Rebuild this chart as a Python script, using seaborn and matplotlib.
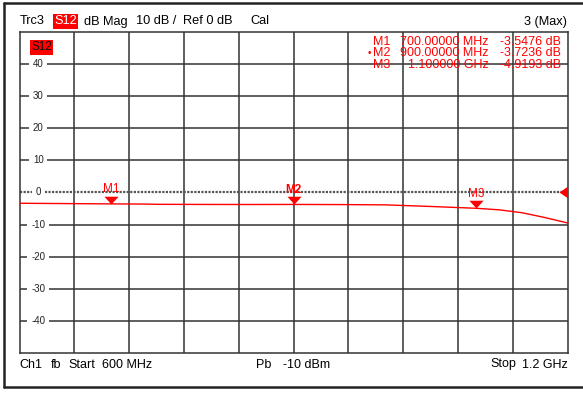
import matplotlib
matplotlib.use("Agg")
import matplotlib.pyplot as plt
import seaborn as sns
import pandas as pd
from matplotlib.lines import Line2D
from matplotlib.path import Path

# Trace S12, magnitude in dB versus frequency in MHz
freq_mhz = [600, 650, 700, 735, 750, 800, 850, 900, 950, 1000, 1050, 1100, 1125, 1150, 1175, 1200]
s12_db = [-3.35, -3.45, -3.55, -3.6, -3.68, -3.72, -3.74, -3.72, -3.76, -3.85, -4.35, -4.92, -5.4, -6.3, -7.8, -9.5]

# Markers
marker_names = ["M1", "M2", "M3"]
marker_freq = [700, 900, 1100]
marker_db = [-3.5476, -3.7236, -4.9193]
marker_freq_text = ["700.00000 MHz", "900.00000 MHz", "1.100000 GHz"]
marker_db_text = ["-3.5476 dB", "-3.7236 dB", "-4.9193 dB"]

y_ticks = [40, 30, 20, 10, 0, -10, -20, -30, -40]

sns.set_theme(style="white")
plt.rcParams["font.family"] = ["Liberation Sans", "DejaVu Sans"]

RED = "#ff0000"
GRID = "#333333"
W, H = 583.0, 394.0

fig = plt.figure(figsize=(5.83, 3.94), dpi=100)
ax = fig.add_axes([19.5 / W, 1 - 353 / H, (567.7 - 19.5) / W, (353 - 32) / H])

ax.set_xlim(600, 1200)
ax.set_ylim(-50, 50)
ax.set_xticks([])
ax.set_yticks([])
for s in ax.spines.values():
    s.set_color(GRID)
    s.set_linewidth(1.1)

# graticule
for f in range(660, 1200, 60):
    ax.axvline(f, color=GRID, lw=1.1, zorder=1)
for v in y_ticks:
    if v == 0:
        ax.axhline(v, color="#555555", lw=1.6, ls=(0, (1, 0.6)), zorder=1)
    else:
        ax.axhline(v, color=GRID, lw=1.1, zorder=1)

# scale labels sitting on the grid lines
for v in y_ticks:
    ax.text(620.5, v, str(v), ha="center", va="center", fontsize=7, color="#222222",
            zorder=3, bbox=dict(boxstyle="square,pad=0.4", fc="white", ec="none"))

df = pd.DataFrame({"freq": freq_mhz, "db": s12_db})
sns.lineplot(data=df, x="freq", y="db", ax=ax, color=RED, lw=1.0, zorder=4)

# flat down-pointing triangle whose tip sits on the trace
tri_down = Path([(-1.0, 1.1), (1.0, 1.1), (0.0, 0.0), (-1.0, 1.1)],
                [Path.MOVETO, Path.LINETO, Path.LINETO, Path.CLOSEPOLY])
mdf = pd.DataFrame({"name": marker_names, "freq": marker_freq, "db": marker_db})
sns.scatterplot(data=mdf, x="freq", y="db", ax=ax, marker=tri_down, s=125,
                color=RED, edgecolor=RED, linewidth=0, zorder=5, legend=False)
for name, f, d in zip(marker_names, marker_freq, marker_db):
    ax.text(f, d + 4.5, name, ha="center", va="center", fontsize=8.5, color=RED,
            fontweight="bold" if name == "M2" else "normal", zorder=6)

# reference level arrow on the right edge
tri_left = Path([(0.0, 0.0), (0.72, 0.5), (0.72, -0.5), (0.0, 0.0)],
                [Path.MOVETO, Path.LINETO, Path.LINETO, Path.CLOSEPOLY])
ax.scatter([1190.3], [0], marker=tri_left, s=150, color=RED, linewidth=0, zorder=6, clip_on=False)
ax.set_xlabel("")
ax.set_ylabel("")

# S12 tag inside the diagram
ax.text(612.8, 45.3, "S12", fontsize=8.5, color="#111111", ha="left", va="center", zorder=6,
        bbox=dict(boxstyle="square,pad=0.12", fc=RED, ec="none"))

# marker readout table
rows_y = [41.7, 53.3, 64.7]
for name, ft, dt, yp in zip(marker_names, marker_freq_text, marker_db_text, rows_y):
    yy = 1 - yp / H
    fig.text(373 / W, yy, name, ha="left", va="center", fontsize=9, color=RED)
    if name == "M2":
        fig.text(369.5 / W, yy, "\u2022", ha="center", va="center", fontsize=7, color=RED)
    fig.text(489 / W, yy, ft, ha="right", va="center", fontsize=9, color=RED)
    fig.text(561 / W, yy, dt, ha="right", va="center", fontsize=9, color=RED)

# header line
hy = 1 - 21.5 / H
hdr = dict(fontsize=9.2, va="center", color="black")
fig.text(20 / W, hy, "Trc3", **hdr)
fig.text(54 / W, hy, "S12", fontsize=9.2, va="center", color="white",
         bbox=dict(boxstyle="square,pad=0.1", fc=RED, ec="none"))
fig.text(84 / W, hy, "dB Mag", **hdr)
fig.text(136 / W, hy, "10 dB /", **hdr)
fig.text(183 / W, hy, "Ref 0 dB", **hdr)
fig.text(250 / W, hy, "Cal", **hdr)
fig.text(567 / W, hy, "3 (Max)", ha="right", fontsize=9.2, va="center", color="black")

# footer line
fy = 1 - 364.5 / H
ftr = dict(fontsize=9, va="center", color="black")
fig.text(19.5 / W, fy, "Ch1", **ftr)
fig.text(50.5 / W, fy, "fb", **ftr)
fig.text(68.5 / W, fy, "Start", **ftr)
fig.text(152 / W, fy, "600 MHz", ha="right", fontsize=9, va="center", color="black")
fig.text(256 / W, fy, "Pb", **ftr)
fig.text(283 / W, fy, "-10 dBm", **ftr)
fig.text(490 / W, fy, "Stop", **ftr)
fig.text(568 / W, fy, "1.2 GHz", ha="right", fontsize=9, va="center", color="black")

# outer window frame
frame = [((4 / W, 4 / W), (1 - 3 / H, 1 - 386.5 / H)),
         ((4 / W, 1.0), (1 - 3 / H, 1 - 3 / H)),
         ((4 / W, 1.0), (1 - 386.5 / H, 1 - 386.5 / H))]
for xs, ys in frame:
    fig.add_artist(Line2D(xs, ys, transform=fig.transFigure, color="#222222", lw=1.8))

fig.savefig("out.png", dpi=100)
